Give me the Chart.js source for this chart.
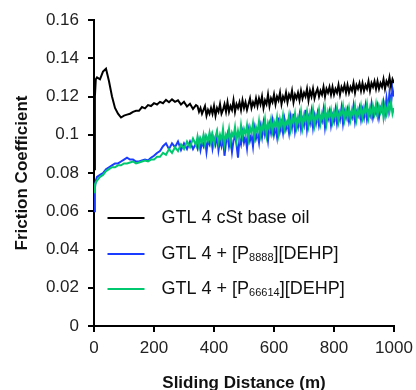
<!DOCTYPE html>
<html>
<head>
<meta charset="utf-8">
<script src="https://cdn.jsdelivr.net/npm/chart.js@4"></script>
<style>
  html, body { margin: 0; padding: 0; background: #fff; }
  #wrap { width: 416px; height: 390px; }
</style>
</head>
<body>
<div id="wrap"><canvas id="frictionChart" width="416" height="390"></canvas></div>
<script>
// sliding distance (m)
const distance = [0, 3, 6, 10, 20, 30, 40, 50, 60, 70, 80, 90, 100, 110, 120, 130, 140, 150, 160, 170, 180, 190,
  200, 210, 220, 230, 240, 250, 260, 270, 280, 290, 300, 310, 320, 330, 340,
  345, 350, 355, 360, 365, 370, 375, 380, 385, 390, 395, 400, 405, 410, 415, 420, 425, 430, 435, 440,
  445, 450, 455, 460, 465, 470, 475, 480, 485, 490, 495, 500, 505, 510, 515, 520, 525, 530, 535, 540,
  545, 550, 555, 560, 565, 570, 575, 580, 585, 590, 595, 600, 605, 610, 615, 620, 625, 630, 635, 640,
  645, 650, 655, 660, 665, 670, 675, 680, 685, 690, 695, 700, 705, 710, 715, 720, 725, 730, 735, 740,
  745, 750, 755, 760, 765, 770, 775, 780, 785, 790, 795, 800, 805, 810, 815, 820, 825, 830, 835, 840,
  845, 850, 855, 860, 865, 870, 875, 880, 885, 890, 895, 900, 905, 910, 915, 920, 925, 930, 935, 940,
  945, 950, 955, 960, 965, 970, 975, 980, 985, 990, 995, 1000];

const baseOil = [0.082, 0.12, 0.129, 0.13, 0.129, 0.133, 0.1345, 0.128, 0.12, 0.114, 0.111, 0.109, 0.11, 0.1105, 0.111, 0.112, 0.1125, 0.1125, 0.1145, 0.1138, 0.1155, 0.115,
  0.1165, 0.1158, 0.1172, 0.1165, 0.1182, 0.117, 0.1185, 0.1172, 0.118, 0.1158, 0.1172, 0.1148, 0.1162, 0.1135, 0.1155,
  0.115, 0.112, 0.114, 0.111, 0.113, 0.115, 0.11, 0.113, 0.111, 0.114, 0.111, 0.115, 0.11, 0.114, 0.112, 0.116, 0.111, 0.113, 0.116, 0.112,
  0.117, 0.112, 0.115, 0.113, 0.118, 0.112, 0.116, 0.114, 0.117, 0.113, 0.118, 0.114, 0.117, 0.113, 0.116, 0.119, 0.114, 0.117, 0.115, 0.119,
  0.115, 0.119, 0.116, 0.12, 0.114, 0.118, 0.116, 0.121, 0.115, 0.119, 0.117, 0.121, 0.116, 0.12, 0.118, 0.122, 0.116, 0.12, 0.118, 0.122,
  0.117, 0.121, 0.119, 0.123, 0.117, 0.121, 0.119, 0.122, 0.118, 0.123, 0.119, 0.122, 0.12, 0.124, 0.118, 0.123, 0.12, 0.124, 0.119, 0.122,
  0.124, 0.12, 0.123, 0.121, 0.125, 0.12, 0.124, 0.122, 0.125, 0.121, 0.125, 0.121, 0.124, 0.122, 0.126, 0.121, 0.125, 0.123, 0.126, 0.122,
  0.126, 0.122, 0.125, 0.123, 0.127, 0.122, 0.126, 0.124, 0.127, 0.123, 0.127, 0.123, 0.126, 0.124, 0.128, 0.123, 0.127, 0.125, 0.128, 0.124,
  0.128, 0.124, 0.127, 0.125, 0.129, 0.124, 0.128, 0.126, 0.13, 0.125, 0.129, 0.127];

const p8888 = [0.06, 0.072, 0.076, 0.078, 0.079, 0.08, 0.082, 0.083, 0.084, 0.085, 0.085, 0.086, 0.087, 0.088, 0.087, 0.087, 0.086, 0.086, 0.0865, 0.087, 0.0865, 0.088,
  0.089, 0.0905, 0.0915, 0.094, 0.0955, 0.0925, 0.0955, 0.0935, 0.0965, 0.092, 0.0955, 0.0925, 0.0965, 0.0925, 0.0955,
  0.093, 0.097, 0.092, 0.096, 0.094, 0.098, 0.091, 0.097, 0.095, 0.099, 0.093, 0.098, 0.095, 0.1, 0.092, 0.097, 0.094, 0.099, 0.089, 0.096,
  0.1, 0.094, 0.098, 0.091, 0.097, 0.1, 0.095, 0.088, 0.098, 0.095, 0.101, 0.096, 0.099, 0.093, 0.102, 0.097, 0.1, 0.094, 0.103, 0.098,
  0.101, 0.096, 0.104, 0.099, 0.106, 0.1, 0.103, 0.097, 0.105, 0.101, 0.107, 0.1, 0.104, 0.099, 0.109, 0.102, 0.106, 0.101, 0.108, 0.103,
  0.106, 0.101, 0.109, 0.104, 0.111, 0.102, 0.107, 0.104, 0.11, 0.103, 0.108, 0.105, 0.113, 0.103, 0.109, 0.106, 0.112, 0.104, 0.11, 0.106,
  0.111, 0.105, 0.109, 0.107, 0.113, 0.104, 0.11, 0.108, 0.112, 0.105, 0.11, 0.107, 0.113, 0.106, 0.111, 0.108, 0.114, 0.106, 0.112, 0.109,
  0.113, 0.107, 0.111, 0.109, 0.115, 0.107, 0.112, 0.11, 0.114, 0.108, 0.113, 0.109, 0.115, 0.108, 0.112, 0.11, 0.116, 0.109, 0.113, 0.111,
  0.115, 0.109, 0.114, 0.112, 0.117, 0.111, 0.119, 0.113, 0.122, 0.116, 0.124, 0.12];

const p66614 = [0.07, 0.074, 0.075, 0.076, 0.078, 0.079, 0.081, 0.082, 0.083, 0.083, 0.084, 0.084, 0.085, 0.085, 0.0855, 0.086, 0.085, 0.0855, 0.086, 0.0865, 0.086, 0.087,
  0.087, 0.0885, 0.0885, 0.0905, 0.0895, 0.0925, 0.0905, 0.0935, 0.0915, 0.095, 0.0925, 0.0965, 0.0935, 0.098, 0.0945,
  0.099, 0.094, 0.098, 0.096, 0.1, 0.095, 0.099, 0.097, 0.101, 0.096, 0.1, 0.095, 0.099, 0.102, 0.096, 0.1, 0.097, 0.103, 0.095, 0.1,
  0.098, 0.103, 0.096, 0.101, 0.099, 0.104, 0.097, 0.102, 0.098, 0.105, 0.099, 0.103, 0.1, 0.105, 0.098, 0.104, 0.101, 0.106, 0.099, 0.104,
  0.101, 0.107, 0.1, 0.105, 0.102, 0.108, 0.1, 0.106, 0.103, 0.108, 0.102, 0.107, 0.104, 0.109, 0.101, 0.108, 0.104, 0.11, 0.103, 0.107,
  0.105, 0.11, 0.103, 0.109, 0.106, 0.111, 0.104, 0.109, 0.106, 0.112, 0.104, 0.11, 0.107, 0.112, 0.105, 0.111, 0.107, 0.113, 0.105, 0.11,
  0.108, 0.113, 0.106, 0.111, 0.108, 0.114, 0.106, 0.112, 0.109, 0.113, 0.107, 0.112, 0.109, 0.114, 0.107, 0.112, 0.11, 0.115, 0.108, 0.113,
  0.109, 0.114, 0.108, 0.113, 0.11, 0.115, 0.108, 0.113, 0.11, 0.115, 0.109, 0.114, 0.111, 0.116, 0.109, 0.114, 0.11, 0.115, 0.111, 0.116,
  0.11, 0.115, 0.112, 0.116, 0.109, 0.115, 0.111, 0.116, 0.112, 0.117, 0.111, 0.114];

const yTicks = [0, 0.02, 0.04, 0.06, 0.08, 0.1, 0.12, 0.14, 0.16];

// legend entries: text pieces, the middle one is a subscript
const legendItems = [
  { color: "#000000", parts: ["GTL 4 cSt base oil"] },
  { color: "#1a3cff", parts: ["GTL 4 + [P", "8888", "][DEHP]"] },
  { color: "#00c86e", parts: ["GTL 4 + [P", "66614", "][DEHP]"] }
];

const FONT = "'Liberation Sans', Arial, sans-serif";

function toPoints(ys) {
  return ys.map((y, i) => ({ x: distance[i], y: y }));
}

// legend inside the plot, drawn by hand so the subscripts come out right
const subLegend = {
  id: "subLegend",
  afterDraw(chart) {
    const c = chart.ctx;
    const x0 = chart.scales.x.getPixelForValue(45);
    const rows = [0.0565, 0.0375, 0.0195];
    c.save();
    legendItems.forEach((item, i) => {
      const y = Math.round(chart.scales.y.getPixelForValue(rows[i]));
      c.strokeStyle = item.color;
      c.lineWidth = 2;
      c.beginPath();
      c.moveTo(x0, y);
      c.lineTo(x0 + 37, y);
      c.stroke();
      let tx = x0 + 54;
      c.fillStyle = "#111";
      c.textBaseline = "middle";
      item.parts.forEach((p, j) => {
        const sub = j === 1;
        c.font = (sub ? "11px " : "18px ") + FONT;
        c.fillText(p, tx, sub ? y + 4 : y);
        tx += c.measureText(p).width;
      });
    });
    c.restore();
  }
};

new Chart(document.getElementById("frictionChart").getContext("2d"), {
  type: "line",
  data: {
    datasets: [
      { label: "GTL 4 cSt base oil", data: toPoints(baseOil), borderColor: "#000000", borderWidth: 2, order: 2 },
      { label: "GTL 4 + [P8888][DEHP]", data: toPoints(p8888), borderColor: "#1a3cff", borderWidth: 2, order: 1 },
      { label: "GTL 4 + [P66614][DEHP]", data: toPoints(p66614), borderColor: "#00c86e", borderWidth: 2, order: 0 }
    ]
  },
  options: {
    responsive: false,
    animation: false,
    elements: { point: { radius: 0 }, line: { tension: 0 } },
    layout: { padding: { top: 20, right: 22, left: 12, bottom: 0 } },
    plugins: { legend: { display: false }, tooltip: { enabled: false } },
    scales: {
      x: {
        type: "linear",
        min: 0,
        max: 1000,
        afterFit: s => { s.height = 64; s.paddingRight = 0; s.paddingLeft = 0; },
        border: { color: "#000", width: 2 },
        grid: { drawOnChartArea: false, drawTicks: true, tickLength: 6, color: "#000", lineWidth: 2 },
        ticks: { stepSize: 200, color: "#222", padding: 6, font: { family: FONT, size: 17 }, callback: v => String(v) },
        title: { display: true, text: "Sliding Distance (m)", color: "#111", padding: { top: 0, bottom: -4 }, font: { family: FONT, size: 17, weight: "bold" } }
      },
      y: {
        min: 0,
        max: 0.16,
        afterFit: s => { s.width = 82; },
        afterBuildTicks: s => { s.ticks = yTicks.map(v => ({ value: v })); },
        border: { color: "#000", width: 2 },
        grid: { drawOnChartArea: false, drawTicks: true, tickLength: 6, color: "#000", lineWidth: 2 },
        ticks: { color: "#222", padding: 9, font: { family: FONT, size: 17 }, callback: v => String(Number(v.toFixed(2))) },
        title: { display: true, text: "Friction Coefficient", color: "#111", padding: { top: 0, bottom: 0 }, font: { family: FONT, size: 17, weight: "bold" } }
      }
    }
  },
  plugins: [subLegend]
});
</script>
</body>
</html>
